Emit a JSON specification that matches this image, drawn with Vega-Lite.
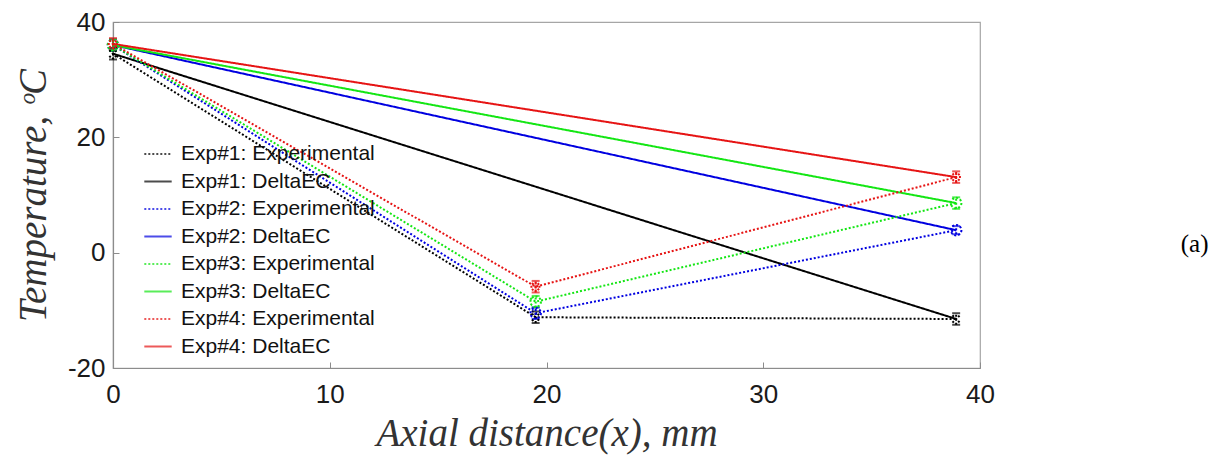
{
  "$schema": "https://vega.github.io/schema/vega-lite/v6.json",
  "width": 867,
  "height": 346,
  "autosize": {"type": "none"},
  "padding": {"left": 113, "top": 22, "right": 236, "bottom": 89},
  "background": "white",
  "datasets": {
    "exp": [
      {"series": "Exp#1: Experimental", "x": 0, "y": 34.5, "lo": 33.5, "hi": 35.5},
      {"series": "Exp#1: Experimental", "x": 19.5, "y": -11.2, "lo": -12.2, "hi": -10.2},
      {"series": "Exp#1: Experimental", "x": 38.9, "y": -11.5, "lo": -12.5, "hi": -10.5},
      {"series": "Exp#2: Experimental", "x": 0, "y": 36.0, "lo": 35.0, "hi": 37.0},
      {"series": "Exp#2: Experimental", "x": 19.5, "y": -10.5, "lo": -11.5, "hi": -9.5},
      {"series": "Exp#2: Experimental", "x": 38.9, "y": 3.9, "lo": 3.2, "hi": 4.6},
      {"series": "Exp#3: Experimental", "x": 0, "y": 36.0, "lo": 35.0, "hi": 37.0},
      {"series": "Exp#3: Experimental", "x": 19.5, "y": -8.5, "lo": -9.5, "hi": -7.5},
      {"series": "Exp#3: Experimental", "x": 38.9, "y": 8.6, "lo": 7.6, "hi": 9.6},
      {"series": "Exp#4: Experimental", "x": 0, "y": 36.2, "lo": 35.2, "hi": 37.2},
      {"series": "Exp#4: Experimental", "x": 19.5, "y": -5.9, "lo": -6.9, "hi": -4.9},
      {"series": "Exp#4: Experimental", "x": 38.9, "y": 13.1, "lo": 12.1, "hi": 14.1}
    ],
    "dec": [
      {"series": "Exp#1: DeltaEC", "x": 0, "y": 34.5},
      {"series": "Exp#1: DeltaEC", "x": 38.9, "y": -11.5},
      {"series": "Exp#2: DeltaEC", "x": 0, "y": 36.0},
      {"series": "Exp#2: DeltaEC", "x": 38.9, "y": 3.9},
      {"series": "Exp#3: DeltaEC", "x": 0, "y": 36.0},
      {"series": "Exp#3: DeltaEC", "x": 38.9, "y": 8.6},
      {"series": "Exp#4: DeltaEC", "x": 0, "y": 36.2},
      {"series": "Exp#4: DeltaEC", "x": 38.9, "y": 13.1}
    ],
    "note": [{"label": "(a)", "x": 49.9, "y": 1.5}]
  },
  "layer": [
    {
      "data": {"name": "dec"},
      "mark": {"type": "line", "strokeWidth": 2},
      "encoding": {
        "x": {"field": "x", "type": "quantitative"},
        "y": {"field": "y", "type": "quantitative"},
        "color": {"field": "series", "type": "nominal"},
        "strokeDash": {"field": "series", "type": "nominal"}
      }
    },
    {
      "data": {"name": "exp"},
      "mark": {"type": "line", "strokeWidth": 2},
      "encoding": {
        "x": {"field": "x", "type": "quantitative"},
        "y": {"field": "y", "type": "quantitative"},
        "color": {"field": "series", "type": "nominal"},
        "strokeDash": {"field": "series", "type": "nominal"}
      }
    },
    {
      "data": {"name": "exp"},
      "mark": {"type": "errorbar", "ticks": {"size": 8, "thickness": 2}, "thickness": 2},
      "encoding": {
        "x": {"field": "x", "type": "quantitative"},
        "y": {"field": "lo", "type": "quantitative"},
        "y2": {"field": "hi"},
        "color": {"field": "series", "type": "nominal"}
      }
    },
    {
      "data": {"name": "exp"},
      "mark": {"type": "point", "filled": false, "strokeWidth": 2, "size": 110, "opacity": 1},
      "encoding": {
        "x": {"field": "x", "type": "quantitative"},
        "y": {"field": "y", "type": "quantitative"},
        "color": {"field": "series", "type": "nominal"},
        "shape": {
          "field": "series", "type": "nominal", "legend": null,
          "scale": {
            "domain": ["Exp#1: Experimental", "Exp#2: Experimental", "Exp#3: Experimental", "Exp#4: Experimental"],
            "range": ["M-0.7,-0.7L0.7,0.7M-0.7,0.7L0.7,-0.7", "circle", "circle", "M-1,0L1,0M0,-1L0,1M-0.7,-0.7L0.7,0.7M-0.7,0.7L0.7,-0.7"]
          }
        }
      }
    },
    {
      "data": {"name": "note"},
      "mark": {"type": "text", "font": "Liberation Serif", "fontSize": 25, "fill": "black", "align": "center", "baseline": "middle"},
      "encoding": {
        "x": {"field": "x", "type": "quantitative"},
        "y": {"field": "y", "type": "quantitative"},
        "text": {"field": "label"}
      }
    }
  ],
  "encoding": {
    "x": {
      "field": "x", "type": "quantitative",
      "scale": {"domain": [0, 40], "nice": false, "zero": false},
      "axis": {"values": [0, 10, 20, 30, 40], "title": "Axial distance(x), mm", "labelPadding": 19, "titlePadding": 7, "labelFlush": false}
    },
    "y": {
      "field": "y", "type": "quantitative",
      "scale": {"domain": [-20, 40], "nice": false, "zero": false},
      "axis": {"values": [-20, 0, 20, 40], "title": "Temperature, ᵒC", "labelPadding": 14, "titlePadding": 14, "labelFlush": false, "labelExpr": "replace(datum.label, '−', '-')"}
    },
    "color": {
      "field": "series", "type": "nominal",
      "scale": {
        "domain": ["Exp#1: Experimental", "Exp#1: DeltaEC", "Exp#2: Experimental", "Exp#2: DeltaEC", "Exp#3: Experimental", "Exp#3: DeltaEC", "Exp#4: Experimental", "Exp#4: DeltaEC"],
        "range": ["#000000", "#000000", "#0000e0", "#0000e0", "#14e614", "#14e614", "#e61414", "#e61414"]
      },
      "legend": {"title": null}
    },
    "strokeDash": {
      "field": "series", "type": "nominal",
      "scale": {
        "domain": ["Exp#1: Experimental", "Exp#1: DeltaEC", "Exp#2: Experimental", "Exp#2: DeltaEC", "Exp#3: Experimental", "Exp#3: DeltaEC", "Exp#4: Experimental", "Exp#4: DeltaEC"],
        "range": [[2, 2], [1, 0], [2, 2], [1, 0], [2, 2], [1, 0], [2, 2], [1, 0]]
      },
      "legend": {"title": null}
    }
  },
  "config": {
    "font": "Liberation Sans",
    "view": {"stroke": "#a6a6a6", "strokeWidth": 1.2},
    "axis": {
      "grid": false,
      "domainColor": "#8c8c8c",
      "domainWidth": 1.2,
      "tickColor": "#8c8c8c",
      "tickSize": -6,
      "labelFont": "Liberation Sans",
      "labelFontSize": 26,
      "labelColor": "#1a1a1a",
      "titleFont": "Liberation Serif",
      "titleFontStyle": "italic",
      "titleFontWeight": "normal",
      "titleFontSize": 39,
      "titleColor": "#333333"
    },
    "legend": {
      "orient": "none",
      "legendX": 30,
      "legendY": 117,
      "padding": 0,
      "symbolType": "stroke",
      "symbolSize": 750,
      "symbolStrokeWidth": 2,
      "rowPadding": 2.5,
      "labelFont": "Liberation Sans",
      "labelFontSize": 21,
      "labelColor": "#111111",
      "labelOffset": 8,
      "labelLimit": 400
    }
  }
}
